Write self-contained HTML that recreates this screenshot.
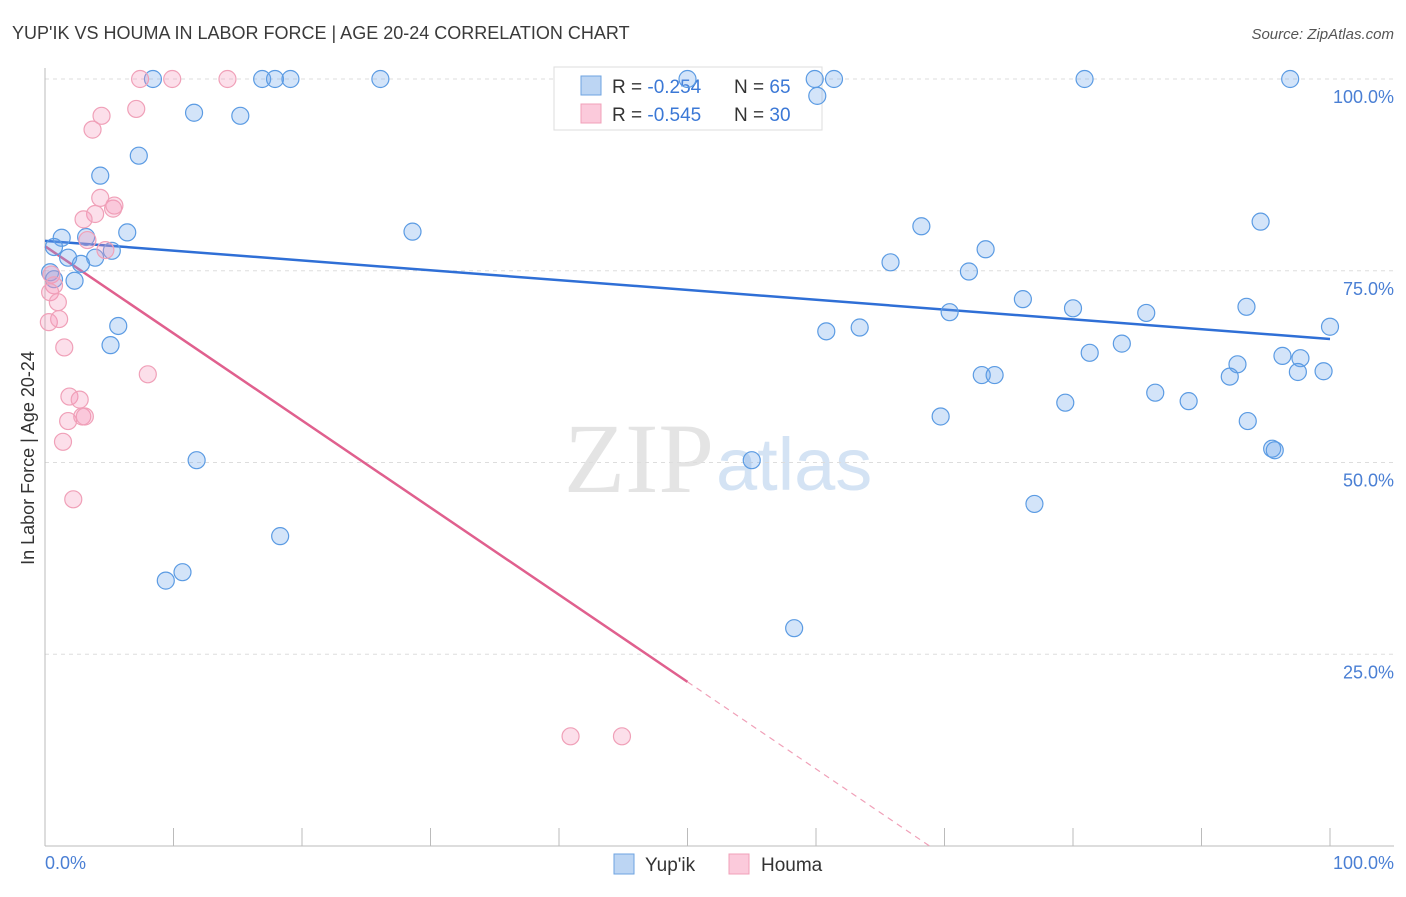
<!DOCTYPE html>
<html><head><meta charset="utf-8"><style>
body{margin:0;background:#fff;font-family:"Liberation Sans",sans-serif}
</style></head><body>
<svg id="c" width="1406" height="892" xmlns="http://www.w3.org/2000/svg">
<text x="12" y="39" font-size="18" fill="#3a3a3a">YUP'IK VS HOUMA IN LABOR FORCE | AGE 20-24 CORRELATION CHART</text>
<text x="1394" y="39" font-size="15" fill="#555" font-style="italic" text-anchor="end">Source: ZipAtlas.com</text>
<text x="714" y="492" font-size="100" fill="#e4e4e4" text-anchor="end" font-family="Liberation Serif,serif">ZIP</text>
<text x="716" y="490" font-size="74" fill="#d4e3f4">atlas</text>
<g id="grid"></g><g id="axes"></g><g id="lines"></g>
<g>
<rect x="554" y="67" width="268" height="63" fill="#fff" stroke="#ddd"/>
<rect x="581" y="76" width="20" height="19" fill="#bcd5f3" stroke="#6ea3e0"/>
<rect x="581" y="104" width="20" height="19" fill="#fbcadb" stroke="#f0a0b8"/>
<text x="612" y="93" font-size="19" fill="#333">R = <tspan fill="#3b78d6">-0.254</tspan><tspan x="734">N = </tspan><tspan fill="#3b78d6">65</tspan></text>
<text x="612" y="121" font-size="19" fill="#333">R = <tspan fill="#3b78d6">-0.545</tspan><tspan x="734">N = </tspan><tspan fill="#3b78d6">30</tspan></text>
</g>
<g id="pts"></g>
<text x="34" y="458" font-size="18" fill="#333" text-anchor="middle" transform="rotate(-90 34 458)">In Labor Force | Age 20-24</text>
<text x="45" y="869" font-size="18" fill="#4a7fd4">0.0%</text>
<text x="1394" y="869" font-size="18" fill="#4a7fd4" text-anchor="end">100.0%</text>
<g>
<rect x="614" y="854" width="20" height="20" fill="#bcd5f3" stroke="#6ea3e0"/>
<text x="645" y="871" font-size="19" fill="#333">Yup'ik</text>
<rect x="729" y="854" width="20" height="20" fill="#fbcadb" stroke="#f0a0b8"/>
<text x="761" y="871" font-size="19" fill="#333">Houma</text>
</g>
</svg>
<script>
const yTicks=[25,50,75,100];
const yTickLabels=["25.0%","50.0%","75.0%","100.0%"];
const xTicks=[0,10,20,30,40,50,60,70,80,90,100];
const yupikX=[8.4,16.9,17.9,19.1,26.1,50,59.9,61.4,80.9,96.9,60.1,11.6,15.2,7.3,4.3,6.4,28.6,1.3,0.7,3.2,5.2,1.8,3.9,2.8,0.4,2.3,0.7,5.7,5.1,11.8,18.3,10.7,9.4,55,58.3,68.2,65.8,71.9,73.2,94.6,76.1,70.4,80,85.7,93.5,60.8,63.4,100,81.3,83.8,72.9,73.9,92.8,92.2,96.3,97.7,97.5,99.5,69.7,79.4,86.4,89,93.6,95.5,95.7,77]
const yupikY=[100,100,100,100,100,100,100,100,100,100,97.8,95.6,95.2,90,87.4,80,80.1,79.3,78.1,79.4,77.6,76.7,76.7,75.9,74.8,73.7,73.9,67.8,65.3,50.3,40.4,35.7,34.6,50.3,28.4,80.8,76.1,74.9,77.8,81.4,71.3,69.6,70.1,69.5,70.3,67.1,67.6,67.7,64.3,65.5,61.4,61.4,62.8,61.2,63.9,63.6,61.8,61.9,56,57.8,59.1,58,55.4,51.8,51.6,44.6];
const houmaX=[7.4,9.9,14.2,7.1,4.4,3.7,4.3,3.9,3,5.3,5.4,3.3,4.7,0.5,0.7,0.4,1,0.3,1.1,1.5,8,1.9,2.7,1.8,2.9,3.1,1.4,2.2,40.9,44.9];
const houmaY=[100,100,100,96.1,95.2,93.4,84.5,82.4,81.7,83.1,83.5,79,77.7,74.5,73.1,72.2,70.9,68.3,68.7,65,61.5,58.6,58.2,55.4,56,56,52.7,45.2,14.3,14.3];
const blueLine=[78.9,66.1];
const pinkLine=[78.2,21.4,50];
const X=v=>45+v*12.85, Y=v=>846-v*7.67;
const NS="http://www.w3.org/2000/svg";
function mk(t,a,p){const e=document.createElementNS(NS,t);for(const k in a)e.setAttribute(k,a[k]);document.getElementById(p).appendChild(e);return e;}
yTicks.forEach((t,i)=>{
 const l=mk('line',{x1:45,x2:1394,y1:Y(t),y2:Y(t),stroke:'#ddd','stroke-dasharray':'4,4'},'grid');
 
 
 const tx=mk('text',{x:1394,y:Y(t)+24,'font-size':18,fill:'#4a7fd4','text-anchor':'end'},'grid');tx.textContent=yTickLabels[i];
 
 
});
mk('line',{x1:45,x2:45,y1:68,y2:846,stroke:'#bbb'},'axes');
mk('line',{x1:45,x2:1394,y1:846,y2:846,stroke:'#bbb'},'axes');
xTicks.forEach(t=>{const l=mk('line',{x1:X(t),x2:X(t),y1:828,y2:846,stroke:'#bbb'},'axes');
 
 });
const bl=mk('line',{x1:X(0),y1:Y(blueLine[0]),x2:X(100),y2:Y(blueLine[1]),stroke:'#2f6fd6','stroke-width':2.5},'lines');


const slope=(pinkLine[1]-pinkLine[0])/pinkLine[2];
const pl=mk('line',{x1:X(0),y1:Y(pinkLine[0]),x2:X(pinkLine[2]),y2:Y(pinkLine[1]),stroke:'#e0608e','stroke-width':2.5},'lines');


const x0=-pinkLine[0]/slope;
const pd=mk('line',{x1:X(pinkLine[2]),y1:Y(pinkLine[1]),x2:X(x0),y2:Y(0),stroke:'#f0a0b8','stroke-width':1.2,'stroke-dasharray':'6,5'},'lines');


yupikX.forEach((x,i)=>{const c=mk('circle',{cx:X(x),cy:Y(yupikY[i]),r:8.5,fill:'rgba(110,165,235,0.3)',stroke:'#5b9be3','stroke-width':1.2},'pts');
 
 });
houmaX.forEach((x,i)=>{const c=mk('circle',{cx:X(x),cy:Y(houmaY[i]),r:8.5,fill:'rgba(245,150,185,0.3)',stroke:'#f0a0b8','stroke-width':1.2},'pts');
 
 });
</script>
</body></html>
